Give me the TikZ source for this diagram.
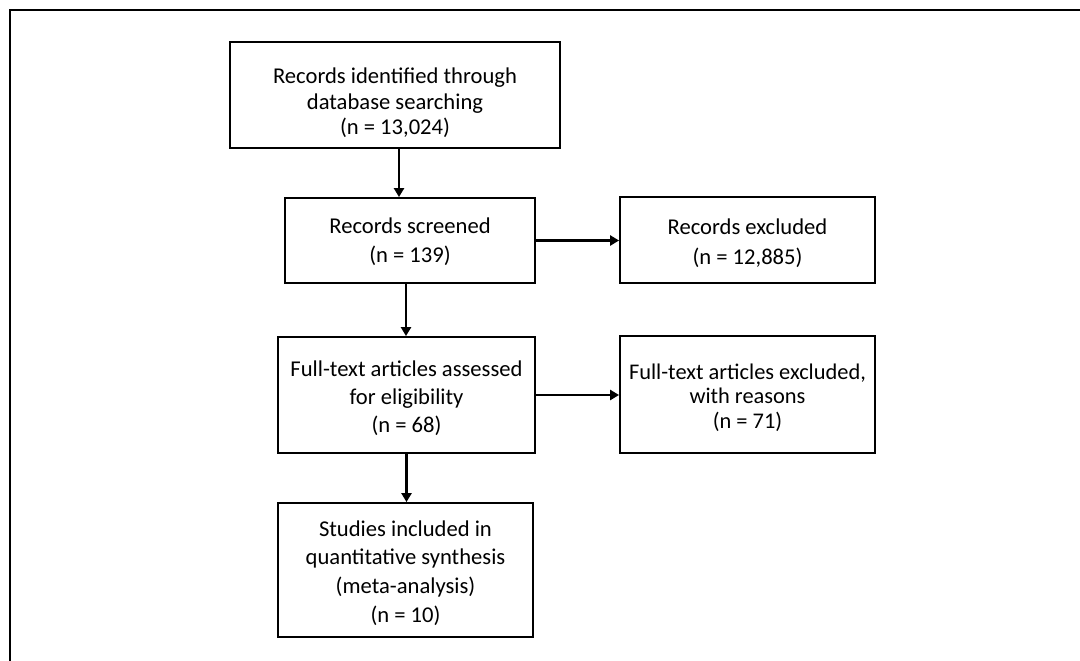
\documentclass[tikz,border=0pt]{standalone}
\usepackage{fontspec}
\setmainfont{Carlito}
\usetikzlibrary{arrows.meta}
\begin{document}
\begin{tikzpicture}[x=1pt,y=-1pt,
  box/.style={draw=black,line width=1.8pt,inner sep=0pt},
  txt/.style={align=center,inner sep=0pt,font=\fontsize{22.6}{25.5}\selectfont},
  conn/.style={line width=2.6pt,-{Triangle[length=9pt,width=10pt]}},
  frame/.style={line width=2pt}]
\useasboundingbox (0,0) rectangle (1080,661);
\draw[frame] (10,661) -- (10,10) -- (1080,10);
\node[box,minimum width=330pt,minimum height=106pt] (b1) at (395,95) {};
\node[txt] (t1) at ([yshift=-8pt]b1.center)
  {Records identified through\\database searching\\(n = 13,024)};
\node[box,minimum width=250pt,minimum height=85pt] (b2) at (410,240.5) {};
\node[txt,font=\fontsize{22.6}{29.5}\selectfont] (t2) at ([yshift=-1pt]b2.center)
  {Records screened\\(n = 139)};
\node[box,minimum width=255pt,minimum height=86pt] (b3) at (747.5,240) {};
\node[txt,font=\fontsize{22.6}{30.5}\selectfont] (t3) at ([yshift=-3pt]b3.center)
  {Records excluded\\(n = 12,885)};
\node[box,minimum width=257pt,minimum height=116pt] (b4) at (406.5,395) {};
\node[txt,font=\fontsize{22.6}{28}\selectfont] (t4) at ([yshift=-3pt]b4.center)
  {Full-text articles assessed\\for eligibility\\(n = 68)};
\node[box,minimum width=255pt,minimum height=117pt] (b5) at (747.5,394.5) {};
\node[txt,font=\fontsize{22.4}{24.5}\selectfont] (t5) at ([yshift=-3pt]b5.center)
  {Full-text articles excluded,\\with reasons\\(n = 71)};
\node[box,minimum width=255pt,minimum height=134pt] (b6) at (405.5,570) {};
\node[txt,font=\fontsize{22.6}{28.7}\selectfont] (t6) at ([yshift=-3pt]b6.center)
  {Studies included in\\quantitative synthesis\\(meta-analysis)\\(n = 10)};
\draw[conn] ([xshift=4pt]b1.south) -- ([xshift=4pt]b1.south |- b2.north);
\draw[conn] ([xshift=-4pt]b2.south) -- ([xshift=-4pt]b2.south |- b4.north);
\draw[conn] (b4.south) -- (b4.south |- b6.north);
\draw[conn] (b2.east) -- (b2.east -| b3.west);
\draw[conn] (b4.east) -- (b4.east -| b5.west);
\end{tikzpicture}
\end{document}
